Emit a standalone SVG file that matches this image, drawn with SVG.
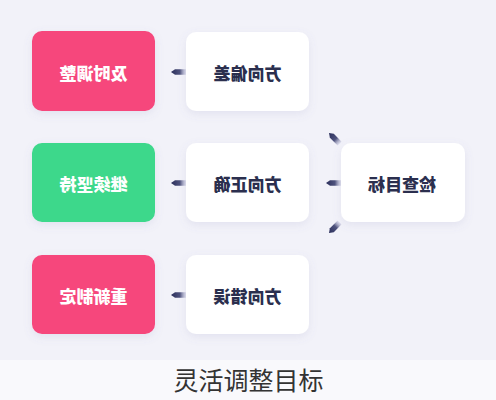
<svg xmlns="http://www.w3.org/2000/svg" width="496" height="400" viewBox="0 0 496 400">
<defs>
<style>
.t{font-family:"Noto Sans CJK SC","Noto Sans",sans-serif;font-weight:900;font-size:17px;text-anchor:middle;dominant-baseline:central}
.w{fill:#ffffff}
.d{fill:#2b2f4e}
.box{stroke:none}
</style>
<filter id="sh" x="-20%" y="-20%" width="140%" height="150%">
<feDropShadow dx="0" dy="3" stdDeviation="4" flood-color="#7a7ab0" flood-opacity="0.13"/>
</filter>
<linearGradient id="ag" x1="0" y1="0" x2="1" y2="0">
<stop offset="0" stop-color="#2a2e5a"/>
<stop offset="0.6" stop-color="#4f537e"/>
<stop offset="1" stop-color="#c8c8e0" stop-opacity="0.5"/>
</linearGradient>
<path id="arr" d="M0,0 L4,-2.8 L15,-2.8 L15,2.8 L4,2.8 Z" fill="url(#ag)"/>
</defs>
<rect x="0" y="0" width="496" height="360" fill="#f2f2f9"/>
<rect x="0" y="360" width="496" height="40" fill="#f9f9fc"/>
<g id="connectors">
<use href="#arr" transform="translate(171,72)"/>
<use href="#arr" transform="translate(171,183)"/>
<use href="#arr" transform="translate(171,295)"/>
<use href="#arr" transform="translate(326,183)"/>
<use href="#arr" transform="translate(329,133) rotate(45)"/>
<use href="#arr" transform="translate(329,233) rotate(-45)"/>
</g>
<g id="n-jishi">
<rect class="box" x="32" y="31" width="123" height="80" rx="10" fill="#f6467b" filter="url(#sh)"/>
<text class="t w" x="-93.5" y="72" transform="scale(-1,1)">及时调整</text>
</g>
<g id="n-piancha">
<rect class="box" x="186" y="32" width="123" height="79" rx="10" fill="#ffffff" filter="url(#sh)"/>
<text class="t d" x="-247.5" y="72" transform="scale(-1,1)">方向偏差</text>
</g>
<g id="n-jixu">
<rect class="box" x="32" y="143" width="123" height="79" rx="10" fill="#3dd88b" filter="url(#sh)"/>
<text class="t w" x="-93.5" y="183" transform="scale(-1,1)">继续坚持</text>
</g>
<g id="n-zhengque">
<rect class="box" x="186" y="143" width="123" height="79" rx="10" fill="#ffffff" filter="url(#sh)"/>
<text class="t d" x="-247.5" y="183" transform="scale(-1,1)">方向正确</text>
</g>
<g id="n-jiancha">
<rect class="box" x="341" y="143" width="124" height="79" rx="10" fill="#ffffff" filter="url(#sh)"/>
<text class="t d" x="-402" y="183" transform="scale(-1,1)">检查目标</text>
</g>
<g id="n-chongxin">
<rect class="box" x="32" y="255" width="123" height="79" rx="10" fill="#f6467b" filter="url(#sh)"/>
<text class="t w" x="-93.5" y="295" transform="scale(-1,1)">重新制定</text>
</g>
<g id="n-cuowu">
<rect class="box" x="186" y="255" width="123" height="79" rx="10" fill="#ffffff" filter="url(#sh)"/>
<text class="t d" x="-247.5" y="295" transform="scale(-1,1)">方向错误</text>
</g>
<text x="248.5" y="390" font-family="'Noto Sans CJK SC','Noto Sans',sans-serif" font-size="25" fill="#333333" text-anchor="middle">灵活调整目标</text>
</svg>
